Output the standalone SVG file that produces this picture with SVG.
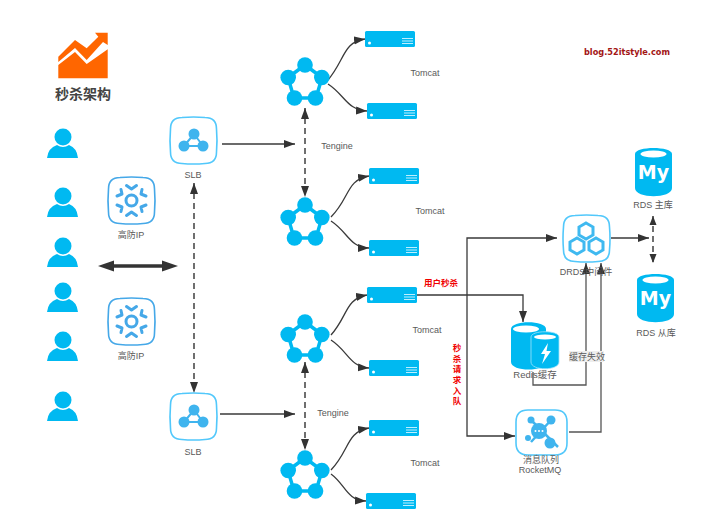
<svg xmlns="http://www.w3.org/2000/svg" xmlns:xlink="http://www.w3.org/1999/xlink" width="720" height="529" viewBox="0 0 720 529">
<style>
text{font-family:"Liberation Sans","Noto Sans CJK SC",sans-serif;font-size:9px;fill:#5a5a5a;text-anchor:middle}
.box{fill:#fff;stroke:#52c8fb;stroke-width:1.6}
.ipbox{fill:#fff;stroke:#45a8e8;stroke-width:1.6}
.c{fill:#00b9f1}
.ln{fill:none;stroke:#3a3a3a;stroke-width:1.3}
.g{fill:none;stroke:#555;stroke-width:1.3}
.d{fill:none;stroke:#333;stroke-width:1.4;stroke-dasharray:6 4}
.red{fill:#f00000;font-weight:bold;font-size:8.5px}
</style>
<defs>
<marker id="a" markerUnits="userSpaceOnUse" markerWidth="12" markerHeight="10" refX="11" refY="4" orient="auto-start-reverse"><path d="M0 0L11 4L0 8z" fill="#333"/></marker>
<marker id="b" markerUnits="userSpaceOnUse" markerWidth="10" markerHeight="10" refX="9" refY="4" orient="auto-start-reverse"><path d="M0 0.5L9 4L0 7.5z" fill="#333"/></marker>
<g id="user"><circle cx="16" cy="9" r="8.5" class="c"/><path d="M0 30Q1 20 10 17Q16 21 22 17Q30 20 31 30z" class="c"/></g>
<g id="ring"><path d="M0 -18L17 -5.500L11 15H-11L-17 -5.500z" fill="none" stroke="#00b9f1" stroke-width="3.500"/><circle cx="0" cy="-18" r="7.800" class="c"/><circle cx="16.800" cy="-5.500" r="7.800" class="c"/><circle cx="10.500" cy="15" r="7.800" class="c"/><circle cx="-10.500" cy="15" r="7.800" class="c"/><circle cx="-16.800" cy="-5.500" r="7.800" class="c"/><circle cx="0" cy="0" r="10" fill="#fff"/></g>
<g id="srv"><rect width="50" height="16" rx="1.500" class="c"/><circle cx="4.500" cy="12" r="1.500" fill="#fff"/><path d="M37 7.500h11M37 10h11M37 12.500h11" stroke="#bdeeff" stroke-width="1"/></g>
<path id="sq" d="M12 .5Q23.500 -.5 35 .5Q46.500 .5 46.500 12Q47.500 23.500 46.500 35Q46.500 46.500 35 46.500Q23.500 47.500 12 46.500Q.5 46.500 .5 35Q-.5 23.500 .5 12Q.5 .5 12 .5z"/>
<g id="slb"><use xlink:href="#sq" class="box"/><path d="M24 17L14 29H33z" fill="none" stroke="#3fb4ee" stroke-width="2"/><circle cx="24" cy="17" r="5.500" fill="#3fb4ee"/><circle cx="14" cy="29" r="5.500" fill="#3fb4ee"/><circle cx="33" cy="29" r="5.500" fill="#3fb4ee"/></g>
<g id="ip"><use xlink:href="#sq" class="ipbox"/><circle cx="23.500" cy="23.500" r="5.500" fill="none" stroke="#45a8e8" stroke-width="3"/><path fill="none" stroke="#45a8e8" stroke-width="3" stroke-linecap="round" stroke-linejoin="round" d="M18.500 8.500L23.500 12L28.500 8.500M18.500 38.500L23.500 35L28.500 38.500M13 12.500L14 17L9 19M34 12.500L33 17L38 19M13 34.500L14 30L9 28M34 34.500L33 30L38 28"/></g>
<g id="my"><path d="M0 7C0 -1 37 -1 37 7V41C37 52 0 52 0 41z" class="c"/><ellipse cx="18.500" cy="7" rx="13" ry="3.500" fill="#fff"/><text x="18.500" y="32" style="font-size:19px;font-weight:bold;fill:#fff;font-family:'DejaVu Sans',sans-serif">My</text></g>
</defs>
<rect width="720" height="529" fill="#fff"/>

<g id="connectors">
<path class="ln" d="M222 144H295" marker-end="url(#a)"/>
<path class="ln" d="M220 414H295" marker-end="url(#a)"/>
<path class="d" d="M194 183V393" marker-start="url(#a)" marker-end="url(#a)"/>
<path class="d" d="M305 108V197" marker-start="url(#a)" marker-end="url(#a)"/>
<path class="d" d="M305 362V450" marker-start="url(#a)" marker-end="url(#a)"/>
<path d="M106 266H170" stroke="#333" stroke-width="3.500" fill="none"/>
<path d="M98 266L114 260.500V271.500zM178 266L162 260.500V271.500z" fill="#333"/>
<path class="ln" d="M328 80C345 60 343 42 365 39" marker-end="url(#a)"/>
<path class="ln" d="M328 84C345 95 347 110 367 111" marker-end="url(#a)"/>
<path class="ln" d="M331 217C350 198 346 180 369 176" marker-end="url(#a)"/>
<path class="ln" d="M331 221C348 232 350 248 369 248" marker-end="url(#a)"/>
<path class="ln" d="M331 335C348 316 345 299 367 295" marker-end="url(#a)"/>
<path class="ln" d="M331 340C348 351 350 367 369 368" marker-end="url(#a)"/>
<path class="ln" d="M331 470C350 450 346 432 369 428" marker-end="url(#a)"/>
<path class="ln" d="M331 474C346 485 346 500 366 501" marker-end="url(#a)"/>
<path class="ln" d="M417 295H523V322" marker-end="url(#a)"/>
<path class="ln" d="M557 238H467V436H515" marker-start="url(#a)" marker-end="url(#a)"/>
<path class="ln" d="M611 238H649" marker-end="url(#a)"/>
<path class="d" d="M653 216V263" marker-start="url(#b)" marker-end="url(#b)"/>
<path class="g" d="M533 372V385H586V263" marker-end="url(#a)"/>
<path class="g" d="M569 432H601V263" marker-end="url(#a)"/>
</g>

<g id="logo"><path d="M58.300 56.700L75 40L86.700 48.300L98.300 36.700L95 32.700H107.700V45L103 42L86.700 60L75 48L58.300 62z" fill="#ff6600"/><path d="M58.300 65L75 52L86.700 64L107.700 49.300V78.300H58.300z" fill="#ff6600"/><text x="83" y="99" style="font-size:14px;font-weight:bold;fill:#444">秒杀架构</text></g>
<g id="blog"><text x="627" y="55" style="font-size:8.200px;font-weight:bold;fill:#a31515;font-family:'DejaVu Sans',sans-serif">blog.52itstyle.com</text></g>

<g id="users">
<use xlink:href="#user" x="47" y="128"/>
<use xlink:href="#user" x="47" y="187"/>
<use xlink:href="#user" x="47" y="237"/>
<use xlink:href="#user" x="47" y="282"/>
<use xlink:href="#user" x="47" y="331"/>
<use xlink:href="#user" x="47" y="391"/>
</g>

<g id="slb1"><use xlink:href="#slb" x="170" y="117"/><text x="193" y="178">SLB</text></g>
<g id="slb2"><use xlink:href="#slb" x="170" y="393"/><text x="193" y="455">SLB</text></g>
<g id="ip1"><use xlink:href="#ip" x="108" y="177"/><text x="131" y="238">高防IP</text></g>
<g id="ip2"><use xlink:href="#ip" x="108" y="298"/><text x="131" y="359">高防IP</text></g>

<g id="tengine1"><use xlink:href="#ring" x="305" y="83"/></g>
<g id="tengine2"><use xlink:href="#ring" x="305" y="223"/></g>
<g id="tengine3"><use xlink:href="#ring" x="305" y="340"/></g>
<g id="tengine4"><use xlink:href="#ring" x="305" y="476"/></g>
<text x="337" y="149">Tengine</text>
<text x="333" y="416">Tengine</text>

<g id="srv1"><use xlink:href="#srv" x="365" y="31"/></g>
<g id="srv2"><use xlink:href="#srv" x="367" y="103"/></g>
<g id="srv3"><use xlink:href="#srv" x="369" y="168"/></g>
<g id="srv4"><use xlink:href="#srv" x="369" y="240"/></g>
<g id="srv5"><use xlink:href="#srv" x="367" y="287"/></g>
<g id="srv6"><use xlink:href="#srv" x="369" y="360"/></g>
<g id="srv7"><use xlink:href="#srv" x="369" y="420"/></g>
<g id="srv8"><use xlink:href="#srv" x="366" y="493"/></g>
<text x="425" y="76">Tomcat</text>
<text x="430" y="214">Tomcat</text>
<text x="427" y="333">Tomcat</text>
<text x="425" y="466">Tomcat</text>

<text class="red" x="441" y="286">用户秒杀</text>
<g>
<text class="red" x="457" y="351">秒</text><text class="red" x="457" y="362">杀</text><text class="red" x="457" y="372">请</text><text class="red" x="457" y="383">求</text><text class="red" x="457" y="394">入</text><text class="red" x="457" y="404">队</text>
</g>

<g id="drds"><use xlink:href="#sq" x="563" y="215" class="box"/>
<g fill="none" stroke="#3fb9f0" stroke-width="3"><path d="M586 223L593 227V235L586 239L579 235V227z"/><path d="M577 238L584 242V250L577 254L570 250V242z"/><path d="M596 238L603 242V250L596 254L589 250V242z"/></g>
<text x="586" y="275">DRDS中间件</text></g>

<g id="redis"><path d="M511 329C511 320 546 320 546 329V362C546 372 511 372 511 362z" class="c"/><ellipse cx="526" cy="329" rx="13" ry="3.500" fill="#fff"/>
<path d="M531 337C531 330 559 330 559 337V362C559 371 531 371 531 362z" class="c" stroke="#9fe3fb" stroke-width="0.800"/><ellipse cx="545" cy="337" rx="11" ry="2.500" fill="#fff"/><path d="M548 343L541 354H545L542 364L551 351H546.500z" fill="#fff"/>
<text x="535" y="378" style="font-size:9.500px">Redis缓存</text></g>

<g id="cachefail"><rect x="569" y="351" width="35" height="11" fill="#eee"/><text x="587" y="360">缓存失效</text></g>

<g id="rocketmq"><path d="M528 410H555Q567 410 567 422V443Q567 455 555 455H528Q516 455 516 443V422Q516 410 528 410z" class="box"/>
<path d="M531 420L558 447M552 419L531 442" stroke="#3fb4ee" stroke-width="2.500"/><circle cx="531" cy="420" r="3.500" fill="#3fb4ee"/><circle cx="551" cy="420" r="4.500" fill="#3fb4ee"/><circle cx="528" cy="438" r="3" fill="#3fb4ee"/><circle cx="550" cy="443" r="5.500" fill="#3fb4ee"/><circle cx="539" cy="431" r="8" fill="#3fb4ee"/><circle cx="535.500" cy="431" r="1" fill="#fff"/><circle cx="539" cy="431" r="1" fill="#fff"/><circle cx="542.500" cy="431" r="1" fill="#fff"/>
<text x="541" y="463">消息队列</text><text x="540" y="473">RocketMQ</text></g>

<g id="rds1"><use xlink:href="#my" x="635" y="147"/><text x="653" y="208">RDS 主库</text></g>
<g id="rds2"><use xlink:href="#my" x="637" y="273"/><text x="656" y="336">RDS 从库</text></g>
</svg>
